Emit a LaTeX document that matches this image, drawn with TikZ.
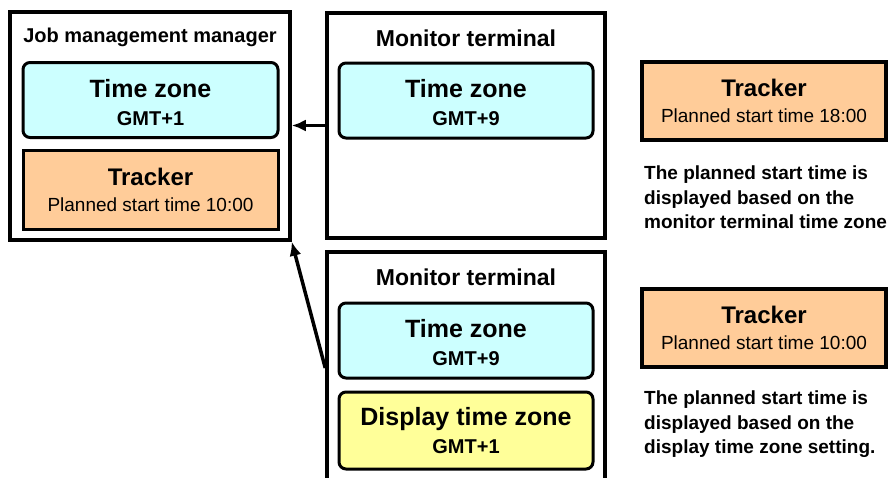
\documentclass[tikz,border=0pt]{standalone}
\usepackage{fontspec}
\setmainfont{Liberation Sans}
\usetikzlibrary{arrows.meta}
\definecolor{ZoneClr}{rgb}{0.8,1,1}
\definecolor{TrackClr}{rgb}{1,0.8,0.6}
\definecolor{DispClr}{rgb}{1,1,0.6}
\newcommand{\zonehead}{\bfseries\fontsize{25}{28}\selectfont}
\newcommand{\trackhead}{\bfseries\fontsize{24}{26}\selectfont}

\begin{document}
\begin{tikzpicture}[x=1pt,y=-1pt,
  frame/.style={draw,line width=3.5pt,minimum width=278pt,inner sep=0pt},
  zonebox/.style={draw,line width=3pt,rounded corners=7pt,fill=ZoneClr,minimum width=254pt,minimum height=75pt,align=center,inner sep=0pt,font=\bfseries\fontsize{20}{28}\selectfont},
  timebox/.style={zonebox,text height=51pt},
  dispbox/.style={zonebox,fill=DispClr,minimum height=77pt},
  trackbox/.style={draw,line width=3pt,fill=TrackClr,minimum width=255pt,minimum height=79pt,align=center,inner sep=0pt,font=\fontsize{19}{26}\selectfont},
  title/.style={anchor=base,font=\bfseries\fontsize{23}{26}\selectfont},
  note/.style={anchor=north west,align=left,inner sep=0pt,font=\bfseries\fontsize{19}{24.5}\selectfont},
  link/.style={line width=3.5pt,-{Latex[length=14pt,width=12pt]}}]

\useasboundingbox (0,0) rectangle (888,477);
\clip (0,0) rectangle (888,477);

% outer frames
\node[frame,minimum width=280pt,minimum height=228pt] (job) at (150,126) {};
\node[frame,minimum height=225pt] (mon1) at (466,125.5) {};
\node[frame,minimum height=232pt] (mon2) at (466,368) {};

\node[title,font=\bfseries\fontsize{20}{24}\selectfont] (jobtitle) at (150,42) {Job management manager};
\node[title] (mon1title) at (466,46) {Monitor terminal};
\node[title] (mon2title) at (466,285) {Monitor terminal};

% inner boxes
\node[timebox,minimum width=255pt] (jobzone) at (150.5,100) {{\zonehead Time zone}\\GMT+1};
\node[trackbox] (jobtrack) at (150.5,189.5) {{\trackhead Tracker}\\Planned start time 10:00};
\node[timebox] (mon1zone) at (466,100.5) {{\zonehead Time zone}\\GMT+9};
\node[timebox] (mon2zone) at (466,340.5) {{\zonehead Time zone}\\GMT+9};
\node[dispbox] (mon2disp) at (466,430.5) {{\zonehead Display time zone}\\GMT+1};

% right column
\node[trackbox,line width=4pt,minimum width=244pt,minimum height=78pt] (track1) at (764,101) {{\trackhead Tracker}\\Planned start time 18:00};
\node[trackbox,line width=4pt,minimum width=244pt,minimum height=78pt] (track2) at (764,328) {{\trackhead Tracker}\\Planned start time 10:00};

\node[note] (note1) at (644,166) {The planned start time is\\displayed based on the\\monitor terminal time zone};
\node[note] (note2) at (644,391) {The planned start time is\\displayed based on the\\display time zone setting.};

\draw[link] (mon1.west) -- (mon1.west -| job.east);
\draw[link] (mon2.west) -- (job.south east);

\end{tikzpicture}
\end{document}
